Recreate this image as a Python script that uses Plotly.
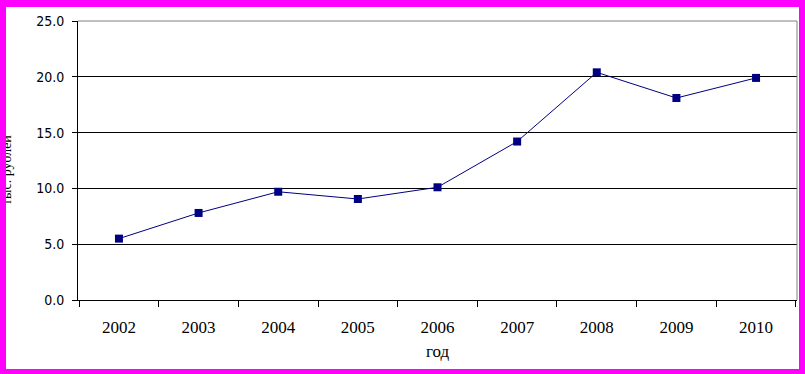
import plotly.graph_objects as go

years = ["2002", "2003", "2004", "2005", "2006", "2007", "2008", "2009", "2010"]
values = [5.5, 7.8, 9.7, 9.05, 10.1, 14.2, 20.4, 18.1, 19.9]
y_ticks = [0, 5, 10, 15, 20, 25]
y_tick_labels = ["0.0", "5.0", "10.0", "15.0", "20.0", "25.0"]

W, H = 805, 374
L, R, T, B = 78, 8, 21, 74
PW, PH = W - L - R, H - T - B


def px(x):
    return (x - L) / PW


def py(y):
    return (H - B - y) / PH


fig = go.Figure()
fig.add_trace(go.Scatter(
    x=years, y=values, mode="lines+markers",
    line=dict(color="#000080", width=1),
    marker=dict(symbol="square", size=8, color="#000080"),
    showlegend=False, cliponaxis=False,
))

MAG = "#ff00ff"
shapes = [
    dict(type="line", xref="paper", yref="paper", x0=0, x1=1, y0=1, y1=1,
         line=dict(color="#808080", width=1), layer="above"),
    dict(type="line", xref="paper", yref="paper", x0=1, x1=1, y0=0, y1=1,
         line=dict(color="#808080", width=1), layer="above"),
    dict(type="rect", xref="paper", yref="paper", x0=px(0), x1=px(W), y0=py(0), y1=py(7),
         fillcolor=MAG, line=dict(width=0), layer="above"),
    dict(type="rect", xref="paper", yref="paper", x0=px(0), x1=px(W), y0=py(369), y1=py(H),
         fillcolor=MAG, line=dict(width=0), layer="above"),
    dict(type="rect", xref="paper", yref="paper", x0=px(799), x1=px(W), y0=py(0), y1=py(H),
         fillcolor=MAG, line=dict(width=0), layer="above"),
]

annotations = [
    dict(text="тыс. рублей", xref="paper", yref="paper", x=px(6), y=py(170),
         xanchor="center", yanchor="middle", textangle=-90, showarrow=False,
         font=dict(family="Liberation Serif", size=14, color="black")),
    dict(text=" ", xref="paper", yref="paper", x=px(0), y=py(H), xanchor="left",
         yanchor="bottom", width=6, height=H, bgcolor=MAG, borderpad=0,
         borderwidth=0, showarrow=False),
]

fig.update_layout(
    width=W, height=H,
    margin=dict(l=L, r=R, t=T, b=B, pad=0),
    paper_bgcolor="white", plot_bgcolor="white",
    shapes=shapes, annotations=annotations,
    xaxis=dict(
        type="category", tickson="boundaries", ticks="outside", ticklen=6,
        tickcolor="black", showline=True, linecolor="black", linewidth=1,
        showgrid=False, zeroline=False,
        tickfont=dict(family="Liberation Serif", size=17, color="black"),
        ticklabelstandoff=12,
        title=dict(text="год", font=dict(family="Liberation Serif", size=17, color="black"),
                   standoff=8),
    ),
    yaxis=dict(
        range=[0, 25], tickvals=y_ticks, ticktext=y_tick_labels,
        ticks="outside", ticklen=5, tickcolor="black",
        showline=True, linecolor="black", linewidth=1,
        showgrid=True, gridcolor="black", gridwidth=1, zeroline=False,
        tickfont=dict(family="Liberation Sans Narrow, DejaVu Sans Condensed, Liberation Sans",
                      size=14, color="black"),
        ticklabelstandoff=5,
    ),
)

fig.write_html(
    "out.html",
    config={"displayModeBar": False},
    post_script="document.body.style.margin='0px';document.body.style.overflow='hidden';",
)
